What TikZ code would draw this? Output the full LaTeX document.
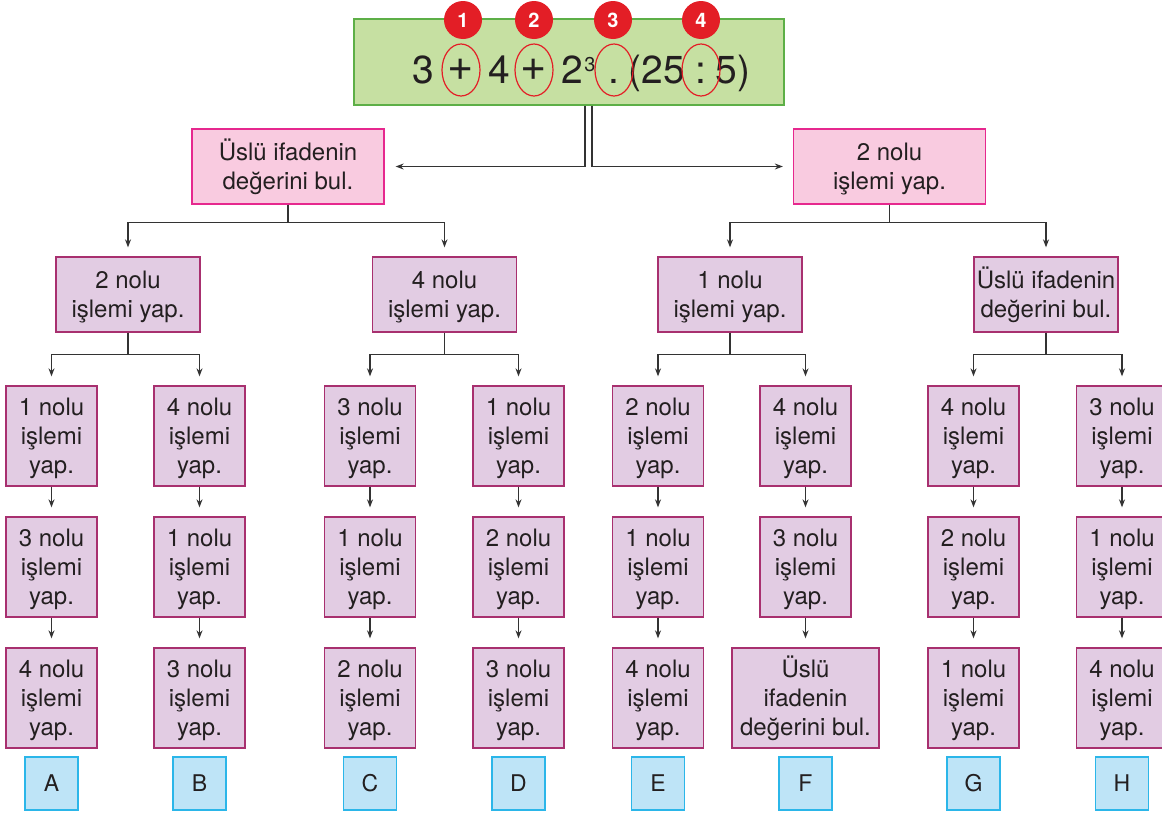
\documentclass[tikz,border=0pt]{standalone}
\usepackage{fontspec}
\setmainfont{TeX Gyre Heros}
\usetikzlibrary{arrows.meta,shapes.geometric}
\definecolor{gfill}{HTML}{C6E0A2}
\definecolor{gline}{HTML}{5DAF47}
\definecolor{pfill}{HTML}{F9CBE0}
\definecolor{pline}{HTML}{E6288E}
\definecolor{vfill}{HTML}{E2CCE3}
\definecolor{vline}{HTML}{A8306F}
\definecolor{bfill}{HTML}{BEE4F7}
\definecolor{bline}{HTML}{2BB6E9}
\definecolor{rred}{HTML}{E31E26}
\definecolor{txt}{HTML}{231F20}
\definecolor{cline}{HTML}{333333}
\newcommand\up{\vphantom{Ü}}
\newcommand\opn[1]{\up#1 nolu\\işlemi\\yap.}
\begin{document}
\begin{tikzpicture}[x=1pt,y=-1pt,
  every node/.style={text=txt, inner sep=0pt},
  lvlone/.style={draw=pline, fill=pfill, line width=1.3pt, minimum width=192pt, minimum height=75pt, align=center, font=\fontsize{24}{29}\selectfont},
  lvltwo/.style={draw=vline, fill=vfill, line width=1.3pt, minimum width=144pt, minimum height=75pt, align=center, font=\fontsize{24}{29}\selectfont},
  cell/.style={draw=vline, fill=vfill, line width=1.3pt, minimum width=91pt, minimum height=100pt, align=center, font=\fontsize{24}{29}\selectfont},
  widecell/.style={cell, minimum width=147pt},
  letter/.style={draw=bline, fill=bfill, line width=1.3pt, minimum width=53pt, minimum height=53pt, font=\fontsize{23}{27}\selectfont},
  arr/.style={draw=cline, line width=1.2pt, -{Stealth[length=8pt,width=6pt]}, shorten >=9pt},
  expr/.style={anchor=base, font=\fontsize{39}{45}\selectfont},
  plus/.style={anchor=center, font=\fontsize{45}{50}\selectfont},
  badge/.style={circle, fill=rred, minimum size=38pt, text=white, font=\bfseries\fontsize{20}{24}\selectfont},
  ring/.style={ellipse, draw=rred, line width=1.2pt, minimum width=38pt, minimum height=52pt}
]
\useasboundingbox (0,0) rectangle (1162,814);

% top expression box
\node[draw=gline, fill=gfill, line width=1.3pt, minimum width=430pt, minimum height=86pt] (top) at (569,62) {};
\node[expr] (e1) at (423,83) {3};
\node[plus] (e2) at (461,70) {+};
\node[expr] (e3) at (499,83) {4};
\node[plus] (e4) at (534,70) {+};
\node[expr] (e5) at (572,83) {2};
\node[anchor=base, font=\fontsize{20}{24}\selectfont] (e6) at (590,71) {3};
\node[expr] (e7) at (614,83) {.};
\node[expr] (e8) at (657,83) {(25};
\node[expr] (e9) at (701,83) {:};
\node[expr] (e10) at (733,83) {5)};
\node[ring] (r1) at (461,70) {};
\node[ring] (r2) at (534,70) {};
\node[ring] (r3) at (614,70) {};
\node[ring] (r4) at (701,70) {};
\node[badge] (b1) at (463,20) {1};
\node[badge] (b2) at (534,20) {2};
\node[badge] (b3) at (613,20) {3};
\node[badge] (b4) at (701,20) {4};

% level 1
\node[lvlone] (L1a) at (288,166.5) {Üslü ifadenin\\değerini bul.};
\node[lvlone] (L1b) at (889.5,166.5) {\up 2 nolu\\işlemi yap.};

% level 2
\node[lvltwo] (L2a) at (128,294.5) {\up 2 nolu\\işlemi yap.};
\node[lvltwo] (L2b) at (444.5,294.5) {\up 4 nolu\\işlemi yap.};
\node[lvltwo] (L2c) at (730,294.5) {\up 1 nolu\\işlemi yap.};
\node[lvltwo] (L2d) at (1046,294.5) {Üslü ifadenin\\değerini bul.};

% level 3 columns
\node[cell] (A1) at (51.5,436) {\opn{1}};
\node[cell] (A2) at (51.5,567) {\opn{3}};
\node[cell] (A3) at (51.5,698) {\opn{4}};
\node[cell] (B1) at (199.5,436) {\opn{4}};
\node[cell] (B2) at (199.5,567) {\opn{1}};
\node[cell] (B3) at (199.5,698) {\opn{3}};
\node[cell] (C1) at (370,436) {\opn{3}};
\node[cell] (C2) at (370,567) {\opn{1}};
\node[cell] (C3) at (370,698) {\opn{2}};
\node[cell] (D1) at (518.5,436) {\opn{1}};
\node[cell] (D2) at (518.5,567) {\opn{2}};
\node[cell] (D3) at (518.5,698) {\opn{3}};
\node[cell] (E1) at (658,436) {\opn{2}};
\node[cell] (E2) at (658,567) {\opn{1}};
\node[cell] (E3) at (658,698) {\opn{4}};
\node[cell] (F1) at (805.5,436) {\opn{4}};
\node[cell] (F2) at (805.5,567) {\opn{3}};
\node[widecell] (F3) at (805.5,698) {Üslü\\ifadenin\\değerini bul.};
\node[cell] (G1) at (973.5,436) {\opn{4}};
\node[cell] (G2) at (973.5,567) {\opn{2}};
\node[cell] (G3) at (973.5,698) {\opn{1}};
\node[cell] (H1) at (1122,436) {\opn{3}};
\node[cell] (H2) at (1122,567) {\opn{1}};
\node[cell] (H3) at (1122,698) {\opn{4}};

% letters
\node[letter] (LA) at (51.5,783.5) {A};
\node[letter] (LB) at (199.5,783.5) {B};
\node[letter] (LC) at (370,783.5) {C};
\node[letter] (LD) at (518.5,783.5) {D};
\node[letter] (LE) at (658,783.5) {E};
\node[letter] (LF) at (805.5,783.5) {F};
\node[letter] (LG) at (973.5,783.5) {G};
\node[letter] (LH) at (1122,783.5) {H};

% connectors from top
\draw[arr, shorten >=11pt] ([xshift=16pt]top.south) |- (L1a.east);
\draw[arr, shorten >=10pt] ([xshift=23pt]top.south) |- (L1b.west);

% level1 -> level2
\draw[arr] (L1a.south) -- ++(0,18) -| (L2a.north);
\draw[arr] (L1a.south) -- ++(0,18) -| (L2b.north);
\draw[arr] (L1b.south) -- ++(0,18) -| (L2c.north);
\draw[arr] (L1b.south) -- ++(0,18) -| (L2d.north);

% level2 -> level3
\draw[arr] (L2a.south) -- ++(0,22) -| (A1.north);
\draw[arr] (L2a.south) -- ++(0,22) -| (B1.north);
\draw[arr] (L2b.south) -- ++(0,22) -| (C1.north);
\draw[arr] (L2b.south) -- ++(0,22) -| (D1.north);
\draw[arr] (L2c.south) -- ++(0,22) -| (E1.north);
\draw[arr] (L2c.south) -- ++(0,22) -| (F1.north);
\draw[arr] (L2d.south) -- ++(0,22) -| (G1.north);
\draw[arr] (L2d.south) -- ++(0,22) -| (H1.north);

% within columns
\foreach \c in {A,B,C,D,E,F,G,H}{
  \draw[arr] (\c1.south) -- (\c2.north);
  \draw[arr] (\c2.south) -- (\c3.north);
}
\end{tikzpicture}
\end{document}
